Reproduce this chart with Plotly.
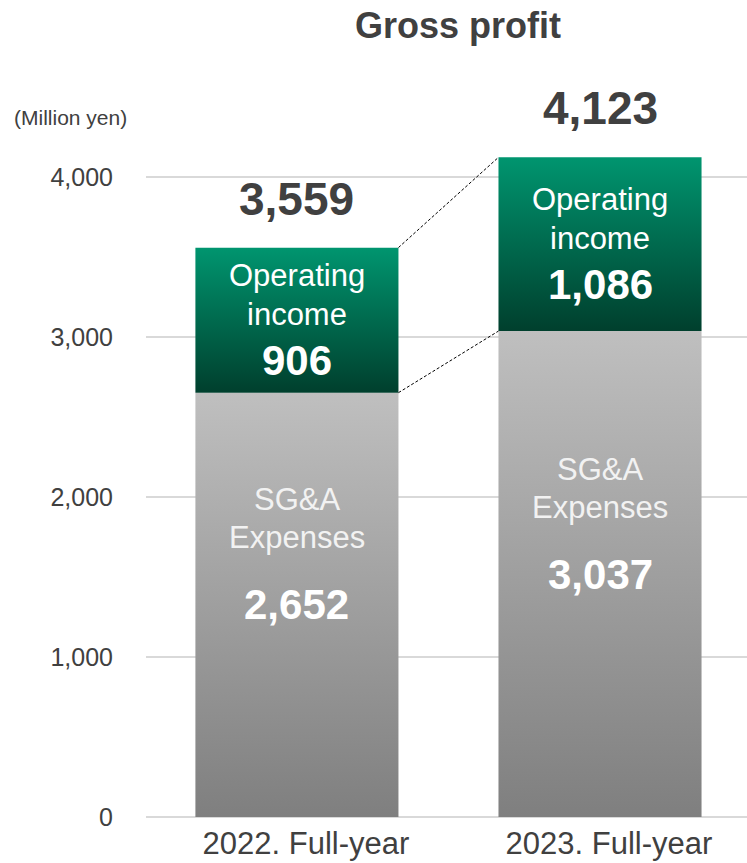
import plotly.graph_objects as go

# Data (million yen)
years = ["2022. Full-year", "2023. Full-year"]
sga_expenses = [2652, 3037]
operating_income = [906, 1086]
gross_profit = [3559, 4123]
y_tick_values = [0, 1000, 2000, 3000, 4000]
y_tick_labels = ["0", "1,000", "2,000", "3,000", "4,000"]

FONT = "Liberation Sans, Arial, sans-serif"
DARK = "#404040"
BAR_W = 0.67
x_pos = list(range(len(years)))

GREEN = [[0, "#003F2D"], [1, "#00956F"]]
GRAY = [[0, "#7F7F7F"], [1, "#BFBFBF"]]

fig = go.Figure()


def add_block(xc, y0, y1, scale):
    x0, x1 = xc - BAR_W / 2, xc + BAR_W / 2
    fig.add_trace(go.Scatter(
        x=[x0, x1, x1, x0, x0], y=[y0, y0, y1, y1, y0],
        mode="lines", fill="toself", line=dict(width=0, color="rgba(0,0,0,0)"),
        fillgradient=dict(type="vertical", colorscale=scale),
        hoverinfo="skip", showlegend=False))


for i, xc in enumerate(x_pos):
    add_block(xc, 0, sga_expenses[i], GRAY)
    add_block(xc, sga_expenses[i], sga_expenses[i] + operating_income[i], GREEN)

# dashed connectors between the two bars
for series in (gross_profit, sga_expenses):
    fig.add_trace(go.Scatter(
        x=[x_pos[0] + BAR_W / 2, x_pos[1] - BAR_W / 2], y=series,
        mode="lines", line=dict(color="#000000", width=1, dash="3px,2px"),
        hoverinfo="skip", showlegend=False))

ann = []
for i, xc in enumerate(x_pos):
    # totals above the bars
    ann.append(dict(x=xc, y=gross_profit[i], yshift=49, text=f"{gross_profit[i]:,}",
                    font=dict(family=FONT, size=46, color=DARK, weight="bold")))
    # operating income block
    mid_op = sga_expenses[i] + operating_income[i] / 2
    ann.append(dict(x=xc, y=mid_op, yshift=45, text="Operating",
                    font=dict(family=FONT, size=31, color="#FFFFFF")))
    ann.append(dict(x=xc, y=mid_op, yshift=6, text="income",
                    font=dict(family=FONT, size=31, color="#FFFFFF")))
    ann.append(dict(x=xc, y=mid_op, yshift=-40, text=f"{operating_income[i]:,}",
                    font=dict(family=FONT, size=42, color="#FFFFFF", weight="bold")))
    # SG&A block
    mid_sga = sga_expenses[i] / 2
    ann.append(dict(x=xc, y=mid_sga, yshift=105, text="SG&amp;A",
                    font=dict(family=FONT, size=31, color="#F2F2F2")))
    ann.append(dict(x=xc, y=mid_sga, yshift=67, text="Expenses",
                    font=dict(family=FONT, size=31, color="#F2F2F2")))
    ann.append(dict(x=xc, y=mid_sga, yshift=0, text=f"{sga_expenses[i]:,}",
                    font=dict(family=FONT, size=42, color="#FFFFFF", weight="bold")))

for a in ann:
    a.update(xref="x", yref="y", showarrow=False, xanchor="center", yanchor="middle")

ann.append(dict(xref="paper", yref="paper", x=0.519, y=1.1046, text="Gross profit",
                showarrow=False, xanchor="center", yanchor="middle",
                font=dict(family=FONT, size=36, color=DARK, weight="bold")))
ann.append(dict(xref="paper", yref="paper", x=-0.223, y=0.976, text="(Million yen)",
                showarrow=False, xanchor="left", yanchor="middle",
                font=dict(family=FONT, size=21, color=DARK)))

fig.update_layout(
    width=747, height=863,
    margin=dict(l=146, r=0, t=100, b=46),
    paper_bgcolor="#FFFFFF", plot_bgcolor="#FFFFFF",
    annotations=ann,
    showlegend=False,
    xaxis=dict(range=[-0.498, 1.485], tickvals=x_pos, ticktext=years,
               showgrid=False, zeroline=False, showline=False, ticks="",
               ticklabelshift=9, ticklabelstandoff=5,
               tickfont=dict(family=FONT, size=31, color=DARK), fixedrange=True),
    yaxis=dict(range=[0, 4481.25], tickvals=y_tick_values, ticktext=y_tick_labels,
               showgrid=True, gridcolor="#D9D9D9", gridwidth=2,
               zeroline=True, zerolinecolor="#D9D9D9", zerolinewidth=2,
               showline=False, ticks="", ticklabelstandoff=32,
               tickfont=dict(family=FONT, size=25, color=DARK), fixedrange=True),
)

fig.write_html("out.html")
